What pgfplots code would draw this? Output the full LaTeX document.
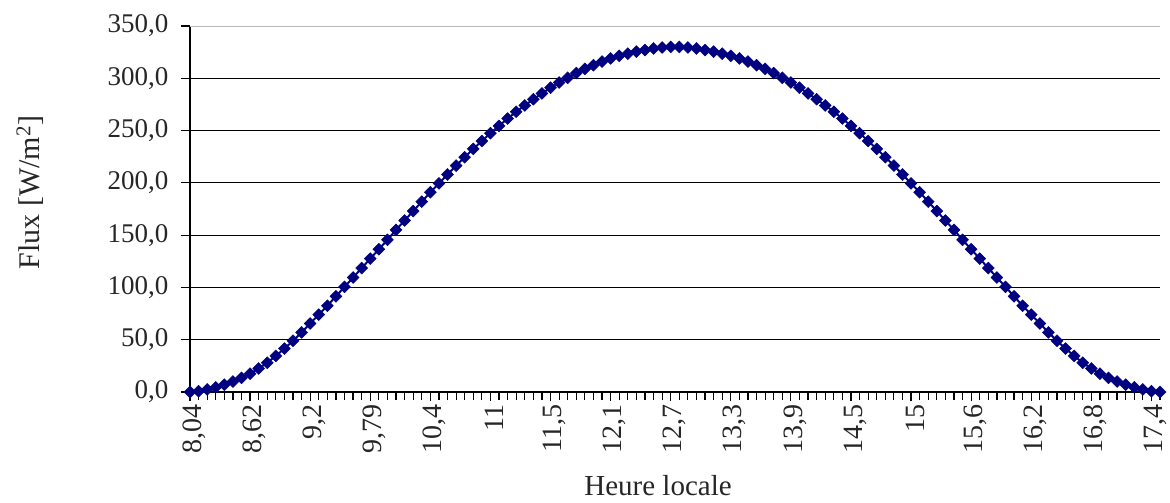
\documentclass[border=0pt]{standalone}
\usepackage{fontspec}
\setmainfont{Liberation Serif}
\usepackage{pgfplots}
\pgfplotsset{compat=1.18}
\definecolor{navy}{RGB}{0,0,128}
\begin{document}
\begin{tikzpicture}
\useasboundingbox (-190pt,-111pt) rectangle (980pt,392pt);
\begin{axis}[
  at={(0pt,0pt)}, anchor=south west,
  scale only axis, width=970pt, height=366pt,
  xmin=0, xmax=113, ymin=0, ymax=350,
  axis x line*=bottom, axis y line*=left,
  axis line style={black, line width=1.5pt, -},
  xtick={0,7,...,112},
  xticklabels={{8,04},{8,62},{9,2},{9,79},{10,4},{11},{11,5},{12,1},{12,7},{13,3},{13,9},{14,5},{15},{15,6},{16,2},{16,8},{17,4}},
  minor xtick={0,...,113},
  ytick={0,50,...,300},
  extra y ticks={350},
  extra y tick style={grid style={gray!55, line width=1pt}},
  ymajorgrids,
  grid style={black, line width=1.2pt},
  tick align=outside,
  major tick length=9pt, minor tick length=8pt,
  tick style={black, line width=1.2pt},
  every tick label/.append style={font=\fontsize{27}{30}\selectfont, text=black!85},
  y tick label style={xshift=-9pt, /pgf/number format/.cd, fixed, fixed zerofill, precision=1, use comma, assume math mode=true},
  x tick label style={rotate=90, anchor=east, yshift=-4pt, font=\fontsize{28}{30}\selectfont},
  clip=false,
  xlabel={Heure locale},
  xlabel style={font=\fontsize{29}{31}\selectfont, text=black!85, at={(axis description cs:0.4825,0)}, anchor=north, yshift=-80pt},
  ylabel={Flux [W/m\textsuperscript{2}]},
  ylabel style={font=\fontsize{30}{32}\selectfont, text=black!85, at={(axis description cs:-0.165,0.545)}, anchor=center},
]
\addplot[navy, line width=2pt, mark=square*, mark size=4.2pt, mark options={rotate=45, fill=navy, draw=navy, line width=0.5pt}] coordinates {
(0,0) (1,0.8) (2,2.5) (3,4.5) (4,7) (5,10) (6,13.5) (7,17.5) (8,22.5) (9,28) (10,34.5) (11,41.5) (12,49) (13,57) (14,65.5) (15,74) (16,82.5) (17,91.5) (18,100.5) (19,109.5) (20,118.5) (21,127.5) (22,136.5) (23,145.5) (24,155) (25,164) (26,173) (27,182) (28,191) (29,199.5) (30,208) (31,216.5) (32,224.5) (33,232.5) (34,240) (35,247.5) (36,254.5) (37,261.5) (38,268) (39,274) (40,280) (41,285.5) (42,291) (43,296) (44,300.5) (45,305) (46,309) (47,312.5) (48,316) (49,319) (50,321.5) (51,323.5) (52,325.5) (53,327) (54,328.5) (55,329.5) (56,330)
(57,330) (58,329.5) (59,328.5) (60,327) (61,325.5) (62,323.5) (63,321.5) (64,319) (65,316) (66,312.5) (67,309) (68,305) (69,300.5) (70,296) (71,291) (72,285.5) (73,280) (74,274) (75,268) (76,261.5) (77,254.5) (78,247.5) (79,240) (80,232.5) (81,224.5) (82,216.5) (83,208) (84,199.5) (85,191) (86,182) (87,173) (88,164) (89,155) (90,145.5) (91,136.5) (92,127.5) (93,118.5) (94,109.5) (95,100.5) (96,91.5) (97,82.5) (98,74) (99,65.5) (100,57) (101,49) (102,41.5) (103,34.5) (104,28) (105,22.5) (106,17.5) (107,13.5) (108,10) (109,7) (110,4.5) (111,2.5) (112,0.8) (113,0)
};
\end{axis}
\end{tikzpicture}
\end{document}
